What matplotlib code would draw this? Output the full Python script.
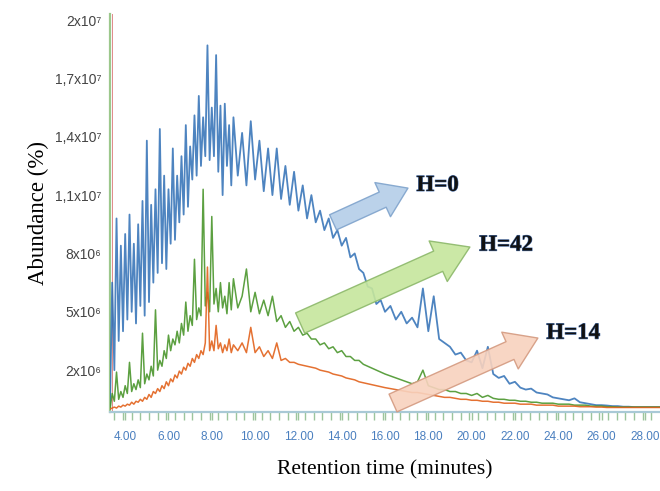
import matplotlib
matplotlib.use("Agg")
import matplotlib.pyplot as plt
import matplotlib.patheffects as pe
import numpy as np

# retention time grid (minutes)
time_min = [
    3.3, 3.4, 3.5, 3.6, 3.7, 3.8, 3.9, 4.0, 4.1, 4.2, 4.3, 4.4, 4.5, 4.6, 4.7, 4.8, 4.9,
    5.0, 5.1, 5.2, 5.3, 5.4, 5.5, 5.6, 5.7, 5.8, 5.9, 6.0, 6.1, 6.2, 6.3, 6.4, 6.5, 6.6,
    6.7, 6.8, 6.9, 7.0, 7.1, 7.2, 7.3, 7.4, 7.5, 7.6, 7.7, 7.8, 7.9, 8.0, 8.1, 8.2, 8.3,
    8.4, 8.5, 8.6, 8.7, 8.8, 8.9, 9.0,
    9.2, 9.4, 9.6, 9.8, 10.0, 10.2, 10.4, 10.6, 10.8, 11.0, 11.2, 11.4, 11.6, 11.8, 12.0,
    12.2, 12.4, 12.6, 12.8, 13.0, 13.2, 13.4, 13.6, 13.8, 14.0, 14.2, 14.4, 14.6, 14.8,
    15.0, 15.2, 15.4, 15.6, 15.8, 16.0,
    16.25, 16.5, 16.75, 17.0, 17.25, 17.5, 17.75, 18.0, 18.25, 18.5, 18.75, 19.0, 19.25,
    19.5, 19.75, 20.0, 20.25, 20.5, 20.75, 21.0, 21.25, 21.5, 21.75, 22.0, 22.25, 22.5,
    22.75, 23.0, 23.25, 23.5, 23.75, 24.0, 24.25, 24.5, 24.75, 25.0, 25.25, 25.5, 25.75,
    26.0, 26.25, 26.5, 26.75, 27.0, 27.25, 27.5, 27.75, 28.0, 28.25, 28.5, 28.75,
]

# abundance, units of 1e6
h0_blue = [
    0.2, 6.5, 2.0, 9.8, 3.5, 8.4, 4.0, 9.0, 4.6, 10.0, 5.0, 8.5, 4.4, 9.5, 5.3, 10.7, 4.8,
    13.8, 5.5, 10.5, 6.5, 11.3, 7.0, 14.4, 7.5, 12.0, 7.2, 11.3, 8.5, 13.4, 8.7, 12.0, 9.6,
    13.0, 10.0, 14.6, 10.4, 13.5, 11.8, 15.1, 12.0, 16.1, 12.5, 15.0, 13.0, 18.7, 12.8,
    15.5, 13.0, 18.2, 12.2, 15.6, 11.0, 15.7, 12.5, 14.6, 11.5, 15.0,
    12.0, 14.2, 11.5, 14.8, 11.8, 13.8, 11.2, 13.4, 11.0, 13.4, 10.8, 12.5, 10.5, 12.2,
    10.2, 11.5, 9.8, 11.0, 9.6, 10.2, 9.2, 9.8, 8.8, 9.2, 8.4, 8.8, 7.8, 8.0, 7.2, 7.0,
    6.3, 6.2, 5.4, 5.6, 5.0,
    5.3, 4.6, 5.0, 4.4, 4.7, 4.2, 6.2, 4.0, 5.8, 3.6, 3.4, 3.2, 2.8, 2.9, 2.5, 2.4, 3.0,
    2.1, 3.2, 1.8, 1.6, 1.7, 1.3, 1.4, 1.1, 1.0, 1.05, 0.85, 0.8, 0.75, 0.6, 0.55, 0.5,
    0.45, 0.55, 0.35, 0.3, 0.25, 0.2, 0.2, 0.18, 0.15, 0.15, 0.12, 0.12, 0.1, 0.1, 0.1,
    0.1, 0.1, 0.1,
]

h42_green = [
    0.0, 0.8, 0.4, 1.9, 0.5, 0.9, 0.6, 1.2, 0.8, 2.4, 0.9, 1.3, 1.0, 1.5, 1.1, 3.9, 1.3,
    1.8, 1.5, 2.2, 1.7, 5.1, 2.0, 2.5, 2.2, 3.0, 2.6, 3.8, 3.0, 3.6, 3.3, 4.0, 3.4, 4.4,
    3.8, 5.5, 4.0, 4.8, 4.3, 7.7, 4.6, 5.2, 4.8, 11.3, 5.3, 6.0, 5.0, 9.9, 5.4, 6.2, 5.0,
    6.5, 5.2, 5.8, 4.9, 6.5, 5.1, 6.7,
    5.2, 5.8, 7.2, 5.0, 6.0, 4.9, 5.6, 4.8, 5.8, 4.5, 4.8, 4.2, 4.5, 4.0, 4.2, 3.8, 3.9,
    3.6, 3.6, 3.3, 3.4, 3.1, 3.2, 2.9, 3.0, 2.7, 2.7, 2.5, 2.5, 2.3, 2.2, 2.1, 2.0, 1.9,
    1.8,
    1.7, 1.6, 1.5, 1.4, 1.3, 1.4, 2.0, 1.2, 1.1, 1.0, 1.0, 0.9, 0.9, 0.8, 0.8, 0.7, 0.8,
    0.6, 0.7, 0.55, 0.5, 0.5, 0.45, 0.45, 0.4, 0.4, 0.35, 0.35, 0.3, 0.3, 0.3, 0.25,
    0.25, 0.25, 0.2, 0.2, 0.2, 0.15, 0.15, 0.15, 0.12, 0.12, 0.1, 0.1, 0.1, 0.1, 0.1,
    0.1, 0.1, 0.1, 0.1,
]

h14_orange = [
    0.0, 0.05, 0.1, 0.05, 0.15, 0.1, 0.2, 0.15, 0.25, 0.2, 0.35, 0.25, 0.4, 0.35, 0.5,
    0.4, 0.6, 0.5, 0.75, 0.6, 0.9, 0.8, 1.05, 0.9, 1.2, 1.05, 1.4, 1.2, 1.55, 1.4, 1.75,
    1.6, 1.95, 1.8, 2.15, 2.0, 2.35, 2.2, 2.6, 2.4, 2.8, 2.6, 3.0, 2.8, 3.4, 7.3, 3.0,
    3.5, 3.0, 4.3, 3.1, 3.4, 2.9, 3.3, 3.0, 3.6, 2.9, 3.3,
    3.0, 3.4, 2.9, 4.2, 2.9, 3.2, 2.7, 3.0, 2.6, 3.4, 2.5, 2.6, 2.4, 2.4, 2.3, 2.25, 2.2,
    2.15, 2.1, 2.0, 1.95, 1.9, 1.8, 1.75, 1.7, 1.6, 1.55, 1.5, 1.4, 1.35, 1.3, 1.25, 1.2,
    1.15, 1.1,
    1.05, 1.0, 0.95, 0.9, 0.85, 0.85, 0.8, 0.75, 0.7, 0.65, 0.6, 0.6, 0.55, 0.5, 0.5,
    0.45, 0.45, 0.4, 0.4, 0.35, 0.35, 0.3, 0.3, 0.3, 0.25, 0.25, 0.25, 0.2, 0.2, 0.2,
    0.2, 0.15, 0.15, 0.15, 0.15, 0.12, 0.12, 0.12, 0.1, 0.1, 0.08, 0.08, 0.08, 0.08,
    0.08, 0.08, 0.08, 0.08, 0.08, 0.08, 0.08,
]

x_ticks = [4, 6, 8, 10, 12, 14, 16, 18, 20, 22, 24, 26, 28]
y_ticks = [2e6, 5e6, 8e6, 11e6, 14e6, 17e6, 20e6]
y_tick_labels = ["2x10⁶", "5x10⁶", "8x10⁶", "1,1x10⁷", "1,4x10⁷", "1,7x10⁷", "2x10⁷"]

serif = ["Liberation Serif", "DejaVu Serif"]
sans = ["Liberation Sans", "DejaVu Sans"]

fig = plt.figure(figsize=(6.6, 4.91), dpi=100)
ax = fig.add_axes([0.1667, 0.161, 0.8333, 0.81])

t = np.array(time_min)
ax.plot(t, np.array(h0_blue) * 1e6, color="#2f6fb5", lw=1.3, alpha=0.85, zorder=3)
ax.plot(t, np.array(h42_green) * 1e6, color="#4a962c", lw=1.1, alpha=0.9, zorder=4)
ax.plot(t, np.array(h14_orange) * 1e6, color="#e2621c", lw=1.1, alpha=0.9, zorder=5)

ax.set_xlim(3.3, 28.7)
ax.set_ylim(-0.15e6, 20.3e6)

# red trace line next to the left axis
ax.axvline(3.4, color="#e08a8a", lw=0.7, zorder=2)

for side in ["top", "right"]:
    ax.spines[side].set_visible(False)
ax.spines["left"].set_color("#9cc88c")
ax.spines["left"].set_linewidth(1.6)
ax.spines["bottom"].set_color("#a9c9d6")
ax.spines["bottom"].set_linewidth(1.6)

ax.set_xticks(x_ticks)
ax.set_xticklabels(["%.2f" % v for v in x_ticks], family=sans)
ax.set_xticks(np.arange(3.5, 28.7, 0.4), minor=True)
ax.tick_params(axis="x", which="both", colors="#9cc59c", length=6, width=1.0,
               direction="out", pad=8, labelsize=8.5, labelcolor="#4a7fbf")
ax.set_yticks(y_ticks)
ax.set_yticklabels(y_tick_labels, family=sans)
ax.tick_params(axis="y", length=0, pad=6, labelsize=10, labelcolor="#444444")

ax.set_xlabel("Retention time (minutes)", family=serif, fontsize=15.5, labelpad=12)
ax.set_ylabel("Abundance (%)", family=serif, fontsize=16.5, labelpad=4)

# block arrows with labels
arrows = [
    ((13.6, 9.6e6), (17.06, 11.36e6), "#b4cde8", "#7fa3cc", 12, 27, 20),
    ((12.08, 4.42e6), (19.92, 8.33e6), "#c6e69c", "#8cb86a", 16, 32, 25),
    ((16.37, 0.31e6), (23.06, 3.65e6), "#f8d2be", "#d49a80", 14, 29, 22),
]
for tail, tip, fc, ec, tw, hw, hl in arrows:
    ax.annotate("", xy=tip, xytext=tail,
                arrowprops=dict(arrowstyle="simple,tail_width=%g,head_width=%g,head_length=%g" % (tw, hw, hl),
                                mutation_scale=1, fc=fc, ec=ec, lw=1.0, alpha=0.9,
                                shrinkA=0, shrinkB=0),
                zorder=6)

labels = [(17.45, 11.5e6, "H=0"), (20.35, 8.43e6, "H=42"), (23.45, 3.9e6, "H=14")]
for lx, ly, txt in labels:
    ax.text(lx, ly, txt, family=serif, fontsize=16.5, fontweight="bold", color="#111111",
            va="center", ha="left", zorder=7,
            path_effects=[pe.withStroke(linewidth=0.8, foreground="#4a6fa8")])

fig.savefig("out.png", dpi=100)
